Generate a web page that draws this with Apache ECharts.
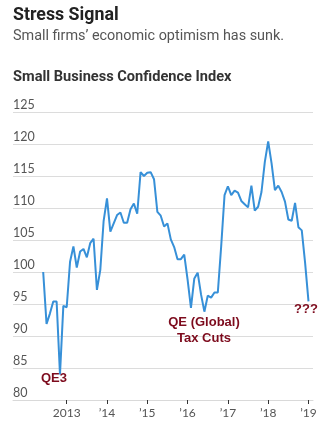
<!DOCTYPE html>
<html>
<head>
<meta charset="utf-8">
<script src="https://cdn.jsdelivr.net/npm/echarts@6/dist/echarts.min.js"></script>
<style>
  html, body { margin: 0; padding: 0; background: #fff; }
  #chart { width: 336px; height: 431px; }
</style>
</head>
<body>
<div id="chart"></div>
<script>
// Monthly readings, starting June 2012
const startYear = 2012;
const startMonth = 6;
const confidence = [
  100, 91.9, 93.5, 95.4, 95.4, 84, 94.7,
  94.5, 101.6, 104, 100.7, 103.2, 103.6, 102.3, 104.5, 105.2, 97.2, 100.3, 108,
  111.5, 106.3, 107.6, 108.9, 109.3, 107.7, 107.7, 109.8, 110.7, 109.1, 115.6, 115,
  115.5, 115.6, 114.5, 109.4, 108.8, 107.1, 107.6, 105.1, 103.9, 102, 102, 102.7,
  98.8, 94.4, 99, 99.9, 96.5, 93.8, 96.3, 96, 96.8, 96.8, 104, 112,
  113.4, 112, 112.7, 112.4, 111.1, 110.6, 110.1, 113.5, 109.6, 110.2, 112.5, 117.2,
  120.4, 117, 112.8, 113.5, 112.5, 111, 108.2, 108, 110.8, 107, 106.5, 101.4,
  95.4
];
const yearTicks = [2013, 2014, 2015, 2016, 2017, 2018, 2019];
const yearLabels = ['2013', '\u201914', '\u201915', '\u201916', '\u201917', '\u201918', '\u201919'];

// Annotation notes
const notes = ['QE3', 'QE (Global)', 'Tax Cuts', '???'];

// Position each reading at its fractional year
const points = confidence.map((v, i) => [startYear + (startMonth - 1 + i) / 12, v]);

const chart = echarts.init(document.getElementById('chart'), null, { renderer: 'canvas' });

const headFont = 'Roboto, sans-serif';
const noteStyle = {
  fontFamily: '"Liberation Sans", Arial, sans-serif',
  fontWeight: 'bold',
  fontSize: 13,
  fill: '#7d0b1d'
};

chart.setOption({
  animation: false,
  grid: { left: 13, right: 23, top: 112, bottom: 31 },
  xAxis: {
    type: 'value',
    min: 2011.6675,
    max: 2019.112,
    splitLine: { show: false },
    axisLine: { show: true, lineStyle: { color: '#d9d9d9', width: 1 } },
    axisTick: {
      show: true,
      customValues: yearTicks,
      length: 4,
      lineStyle: { color: '#333', width: 1 }
    },
    axisLabel: {
      customValues: yearTicks,
      formatter: v => yearLabels[yearTicks.indexOf(Math.round(v))] || '',
      color: '#555',
      fontFamily: 'Lato, sans-serif',
      fontSize: 12,
      margin: 7
    }
  },
  yAxis: {
    type: 'value',
    min: 80,
    max: 125,
    interval: 5,
    axisLine: { show: false },
    axisTick: { show: false },
    splitLine: { lineStyle: { color: '#dcdcdc', width: 1 } },
    axisLabel: {
      inside: true,
      align: 'left',
      verticalAlign: 'bottom',
      margin: 0,
      padding: [0, 0, 1, 0],
      color: '#555',
      fontFamily: 'Lato, sans-serif',
      fontSize: 12.5
    }
  },
  series: [{
    type: 'line',
    data: points,
    symbol: 'none',
    lineStyle: { color: '#3790d8', width: 2 },
    z: 3
  }],
  graphic: [
    { type: 'text', left: 13, top: 7, z: 100,
      style: { text: 'Stress Signal', fontFamily: headFont, fontWeight: 'bold', fontSize: 17.8, fill: '#222' } },
    { type: 'text', left: 13, top: 29.5, z: 100,
      style: { text: 'Small firms\u2019 economic optimism has sunk.', fontFamily: headFont, fontSize: 14.4, fill: '#555' } },
    { type: 'text', left: 13, top: 69.5, z: 100,
      style: { text: 'Small Business Confidence Index', fontFamily: headFont, fontWeight: 'bold', fontSize: 14.6, fill: '#333' } },
    { type: 'text', x: 54, y: 378, z: 100,
      style: Object.assign({ text: notes[0], align: 'center', verticalAlign: 'middle' }, noteStyle) },
    { type: 'text', x: 204, y: 322, z: 100,
      style: Object.assign({ text: notes[1], align: 'center', verticalAlign: 'middle' }, noteStyle) },
    { type: 'text', x: 204, y: 338, z: 100,
      style: Object.assign({ text: notes[2], align: 'center', verticalAlign: 'middle' }, noteStyle) },
    { type: 'text', x: 306, y: 309, z: 100,
      style: Object.assign({ text: notes[3], align: 'center', verticalAlign: 'middle' }, noteStyle) }
  ]
});
</script>
</body>
</html>
